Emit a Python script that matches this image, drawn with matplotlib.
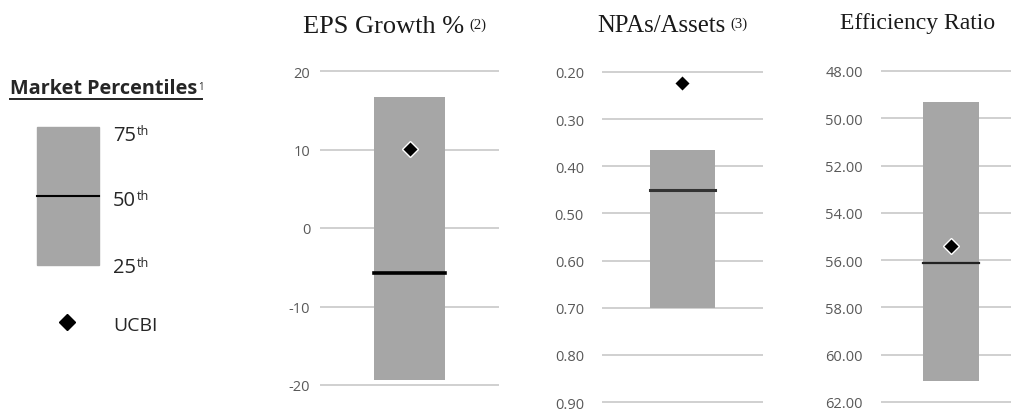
import matplotlib.pyplot as plt
from matplotlib.patches import Rectangle

plt.rcParams['font.family'] = ['Open Sans', 'DejaVu Sans']

# Peer percentile data per metric
metrics = ['EPS Growth %', 'NPAs/Assets', 'Efficiency Ratio']
notes = ['(2)', '(3)', '']
p25 = [-19.4, 0.70, 61.1]
p50 = [-5.7, 0.451, 56.1]
p75 = [16.7, 0.366, 49.3]
ucbi = [10.1, 0.223, 55.4]
ticks = [[-20, -10, 0, 10, 20],
         [0.2, 0.3, 0.4, 0.5, 0.6, 0.7, 0.8, 0.9],
         [48, 50, 52, 54, 56, 58, 60, 62]]
tick_fmt = ['{:.0f}', '{:.2f}', '{:.2f}']

W, H = 1012, 410
fig = plt.figure(figsize=(W / 100, H / 100), dpi=100)

BOX = '#a6a6a6'
GRID = '#c4c4c4'
TICKC = '#595959'

# layout in pixels: left, right, (value, pixel) pairs for y, ylim, tick pad, median style
layout = [
    dict(l=320, r=499, ref=((20, 72), (-20, 386)), lim=(-20.7, 20.7), pad=7, mlw=2.6,
         mcol='black', title_xy=(303, 33), tsize=19),
    dict(l=602, r=763, ref=((0.2, 73), (0.9, 403)), lim=(0.915, 0.185), pad=13, mlw=2.2,
         mcol='#333333', title_xy=(597, 32), tsize=17.8),
    dict(l=881, r=1021, ref=((48, 72), (62, 403)), lim=(62.3, 47.7), pad=13, mlw=1.6,
         mcol='#222222', title_xy=(840, 29), tsize=17),
]

overlay = fig.add_axes([0, 0, 1, 1], zorder=5)
overlay.set_xlim(0, W)
overlay.set_ylim(H, 0)
overlay.set_axis_off()

for i, lay in enumerate(layout):
    (v1, y1), (v2, y2) = lay['ref']
    k = (y2 - y1) / (v2 - v1)
    lo, hi = lay['lim']
    py_lo = y1 + (lo - v1) * k
    py_hi = y1 + (hi - v1) * k
    top_px, bot_px = min(py_lo, py_hi), max(py_lo, py_hi)
    ax = fig.add_axes([lay['l'] / W, 1 - bot_px / H, (lay['r'] - lay['l']) / W,
                       (bot_px - top_px) / H])
    ax.set_xlim(-1, 1)
    ax.set_ylim(lo, hi)
    ax.set_yticks(ticks[i])
    ax.set_yticklabels([tick_fmt[i].format(t) for t in ticks[i]])
    ax.set_xticks([])
    ax.tick_params(axis='y', length=0, pad=lay['pad'], labelsize=10.5, labelcolor=TICKC)
    for s in ax.spines.values():
        s.set_visible(False)
    ax.set_axisbelow(True)
    ax.grid(axis='y', color=GRID, lw=1.1)
    ax.patch.set_alpha(0)

    ax.bar(0, p75[i] - p25[i], bottom=p25[i], width=0.8, color=BOX, zorder=2)
    ax.plot([-0.4, 0.4], [p50[i], p50[i]], color=lay['mcol'], lw=lay['mlw'], zorder=3)
    ax.plot(0, ucbi[i], marker='D', ms=8, color='black', mec='white', mew=1.0,
            zorder=4, clip_on=False)

    tx, ty = lay['title_xy']
    t = overlay.text(tx, ty, metrics[i], fontsize=lay['tsize'], family='Liberation Serif',
                     color='#1a1a1a', ha='left', va='baseline')
    if notes[i]:
        overlay.annotate(notes[i], xy=(1, 1), xycoords=t, xytext=(4, -2),
                         textcoords='offset points', fontsize=10.5,
                         family='Liberation Serif', color='#1a1a1a', ha='left', va='top')

# Legend key (pixel coordinates)
mp = overlay.text(10, 94, 'Market Percentiles', fontsize=14.3, fontweight='bold',
                  color='#262626', ha='left', va='baseline')
overlay.annotate('1', xy=(1, 1), xycoords=mp, xytext=(1, -2), textcoords='offset points',
                 fontsize=7, color='#262626', ha='left', va='top')
overlay.plot([10, 202], [100, 100], color='#262626', lw=1.4)

overlay.add_patch(Rectangle((37, 128), 62, 138, color=BOX))
overlay.plot([37, 99], [197, 197], color='black', lw=1.5)
for lab, yb in [('75', 141), ('50', 206), ('25', 273)]:
    tt = overlay.text(113, yb, lab, fontsize=14.5, color='#262626', ha='left', va='baseline')
    overlay.annotate('th', xy=(1, 1), xycoords=tt, xytext=(0.5, 1), textcoords='offset points',
                     fontsize=9, color='#262626', ha='left', va='top')
overlay.plot(67, 323, marker='D', ms=8, color='black')
overlay.text(113, 331, 'UCBI', fontsize=14, color='#262626', ha='left', va='baseline')

plt.savefig('out.png', dpi=100)
